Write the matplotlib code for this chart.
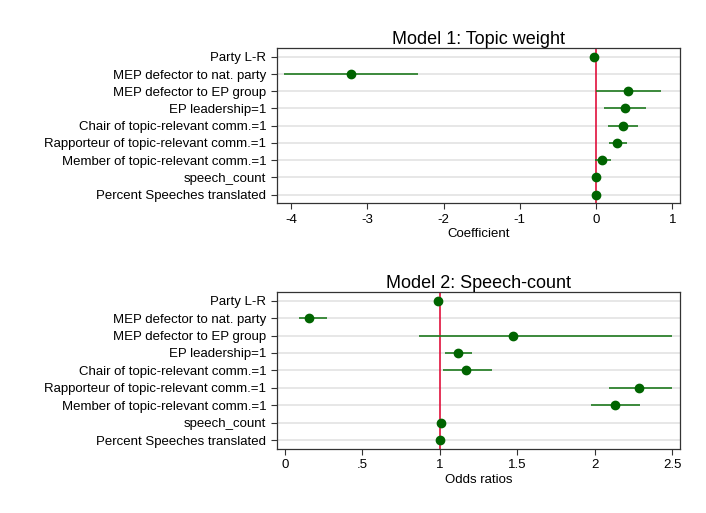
import numpy as np
import matplotlib
matplotlib.use("Agg")
import matplotlib.pyplot as plt

plt.rcParams['font.family'] = ['Liberation Sans', 'DejaVu Sans']

labels = ["Party L-R", "MEP defector to nat. party", "MEP defector to EP group",
          "EP leadership=1", "Chair of topic-relevant comm.=1",
          "Rapporteur of topic-relevant comm.=1", "Member of topic-relevant comm.=1",
          "speech_count", "Percent Speeches translated"]

# Model 1: coefficients with 95% CI
m1_coef = [-0.03, -3.21, 0.42, 0.38, 0.36, 0.28, 0.08, 0.005, 0.003]
m1_lo = [-0.04, -4.09, 0.0, 0.10, 0.16, 0.17, -0.02, 0.0, 0.0]
m1_hi = [-0.02, -2.34, 0.85, 0.66, 0.55, 0.40, 0.19, 0.01, 0.006]

# Model 2: odds ratios with 95% CI
m2_coef = [0.99, 0.155, 1.47, 1.12, 1.17, 2.285, 2.13, 1.005, 1.003]
m2_lo = [0.985, 0.09, 0.865, 1.035, 1.02, 2.09, 1.975, 1.0, 1.0]
m2_hi = [0.995, 0.275, 2.50, 1.21, 1.34, 2.50, 2.29, 1.01, 1.006]

green = "#006400"
red = "#e0103c"

fig = plt.figure(figsize=(7.06, 5.13), dpi=100)


def coef_panel(ax, coef, lo, hi, ref, title, xlabel, xticks, xticklabels, xlim):
    y = np.arange(len(labels))[::-1] + 1
    for yy in y:
        ax.axhline(yy, color="#e3e3e3", lw=1.2, zorder=0)
    ax.axvline(ref, color=red, lw=1.2, zorder=1)
    ax.hlines(y, lo, hi, color="#1f7a1f", lw=1.2, zorder=2)
    ax.plot(coef, y, "o", color=green, ms=6, zorder=3)
    ax.set_yticks(y)
    ax.set_yticklabels(labels, fontsize=9.5)
    ax.set_ylim(0.5, len(labels) + 0.5)
    ax.set_xticks(xticks)
    ax.set_xticklabels(xticklabels, fontsize=9.5)
    ax.set_xlim(*xlim)
    ax.set_title(title, fontsize=13, pad=3)
    ax.set_xlabel(xlabel, fontsize=9.5, labelpad=2)
    ax.tick_params(direction="out", length=4, width=0.8, colors="#333333", labelcolor="black")
    for s in ax.spines.values():
        s.set_color("#333333")
        s.set_linewidth(0.9)


ax1 = fig.add_axes([0.392, 0.604, 0.571, 0.302])
coef_panel(ax1, m1_coef, m1_lo, m1_hi, 0, "Model 1: Topic weight", "Coefficient",
           [-4, -3, -2, -1, 0, 1], ["-4", "-3", "-2", "-1", "0", "1"], (-4.19, 1.10))

ax2 = fig.add_axes([0.392, 0.125, 0.571, 0.306])
coef_panel(ax2, m2_coef, m2_lo, m2_hi, 1, "Model 2: Speech-count", "Odds ratios",
           [0, 0.5, 1, 1.5, 2, 2.5], ["0", ".5", "1", "1.5", "2", "2.5"], (-0.052, 2.55))

fig.savefig("out.png", dpi=100)
